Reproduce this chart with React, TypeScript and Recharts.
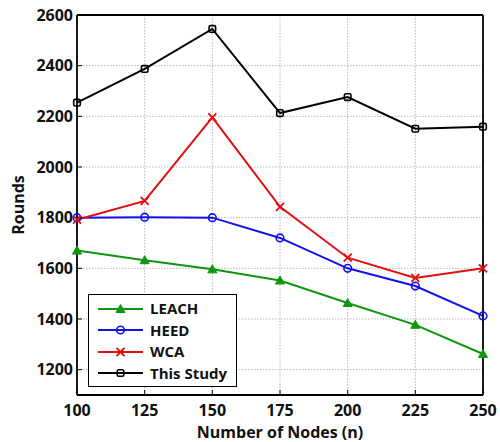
import React from 'react';
import { LineChart, Line, XAxis, YAxis, CartesianGrid } from 'recharts';

const nodes = [100, 125, 150, 175, 200, 225, 250];
const leach = [1670, 1632, 1596, 1552, 1463, 1377, 1262];
const heed = [1800, 1802, 1800, 1720, 1600, 1530, 1412];
const wca = [1792, 1866, 2196, 1843, 1642, 1562, 1600];
const thisStudy = [2254, 2387, 2545, 2213, 2276, 2151, 2159];

const xTicks = [100, 125, 150, 175, 200, 225, 250];
const yTicks = [1200, 1400, 1600, 1800, 2000, 2200, 2400, 2600];

const FONT = '"Open Sans", "Liberation Sans", sans-serif';

const Colors = {
  leach: '#0f960f',
  heed: '#1010f0',
  wca: '#e01010',
  study: '#000000',
  grid: '#b8b8b8',
  text: '#111111',
} as const;

type Marker = 'triangle' | 'circle' | 'cross' | 'square';

// one marker shape, shared by the chart dots and the legend samples
const drawMarker = (kind: Marker, cx: number, cy: number, color: string, key?: string | number) => {
  switch (kind) {
    case 'triangle':
      return <path key={key} d={`M${cx},${cy - 4.5}L${cx + 4.5},${cy + 3.5}L${cx - 4.5},${cy + 3.5}Z`} fill={color} stroke={color} strokeWidth={1} />;
    case 'circle':
      return <circle key={key} cx={cx} cy={cy} r={3.8} fill="none" stroke={color} strokeWidth={1.6} />;
    case 'cross':
      return (
        <path key={key} d={`M${cx - 4},${cy - 4}L${cx + 4},${cy + 4}M${cx - 4},${cy + 4}L${cx + 4},${cy - 4}`} stroke={color} strokeWidth={1.8} fill="none" />
      );
    default:
      return <rect key={key} x={cx - 3.3} y={cy - 3.3} width={6.6} height={6.6} rx={1.5} fill="none" stroke={color} strokeWidth={1.6} />;
  }
};

const dotFor = (kind: Marker, color: string) => (props: any) => {
  const { cx, cy, index } = props;
  if (cx == null || cy == null) return <g key={index} />;
  return drawMarker(kind, cx, cy, color, index);
};

const seriesList: { key: string; name: string; color: string; marker: Marker }[] = [
  { key: 'leach', name: 'LEACH', color: Colors.leach, marker: 'triangle' },
  { key: 'heed', name: 'HEED', color: Colors.heed, marker: 'circle' },
  { key: 'wca', name: 'WCA', color: Colors.wca, marker: 'cross' },
  { key: 'study', name: 'This Study', color: Colors.study, marker: 'square' },
];

const data = nodes.map((n, i) => ({
  n,
  leach: leach[i],
  heed: heed[i],
  wca: wca[i],
  study: thisStudy[i],
}));

// boxed legend, lower-left inside the plot (overlaid, so it doesn't shrink the plot)
const BoxLegend = () => (
  <div
    style={{
      position: 'absolute',
      left: 88,
      top: 294,
      width: 149,
      border: '1.5px solid #000',
      background: '#fff',
      padding: '3px 0 2px 0',
      boxSizing: 'border-box',
      fontFamily: FONT,
    }}
  >
    {seriesList.map((s) => (
      <div key={s.key} style={{ display: 'flex', alignItems: 'center', height: 21.5 }}>
        <svg width={56} height={14} style={{ marginLeft: 4 }}>
          <line x1={5} y1={7} x2={50} y2={7} stroke={s.color} strokeWidth={2} />
          {drawMarker(s.marker, 27.5, 7, s.color)}
        </svg>
        <span style={{ fontSize: 15, fontWeight: 700, color: Colors.text, marginLeft: 1, lineHeight: '21px' }}>{s.name}</span>
      </div>
    ))}
  </div>
);

const tickStyle = { fontSize: 16, fontWeight: 700, fill: Colors.text, fontFamily: FONT };

export default function App() {
  // pinned to the viewport corner so the body margin can't push it into scrollbars
  return (
    <div
      style={{
        position: 'fixed',
        left: 0,
        top: 0,
        width: 500,
        height: 442,
        overflow: 'hidden',
        background: '#fff',
        fontFamily: FONT,
      }}
    >
      <LineChart width={500} height={442} data={data} margin={{ top: 14, right: 16, bottom: 0, left: 0 }}>
        <CartesianGrid stroke={Colors.grid} strokeDasharray="1.5 1.5" />
        <XAxis
          dataKey="n"
          type="number"
          domain={[100, 250]}
          ticks={xTicks}
          height={47}
          axisLine={{ stroke: '#000', strokeWidth: 1.8 }}
          tickLine={{ stroke: '#000' }}
          tickSize={-5}
          tickMargin={15}
          tick={tickStyle}
          label={{
            value: 'Number of Nodes (n)',
            position: 'insideBottom',
            offset: 4,
            style: { fontSize: 16, fontWeight: 700, fill: Colors.text, fontFamily: FONT },
          }}
        />
        <XAxis
          xAxisId="top"
          orientation="top"
          type="number"
          domain={[100, 250]}
          ticks={xTicks}
          height={1}
          axisLine={{ stroke: '#000', strokeWidth: 1.8 }}
          tickLine={{ stroke: '#000' }}
          tickSize={-5}
          tick={false}
        />
        <YAxis
          type="number"
          domain={[1100, 2600]}
          ticks={yTicks}
          width={77}
          axisLine={{ stroke: '#000', strokeWidth: 1.8 }}
          tickLine={{ stroke: '#000' }}
          tickSize={-5}
          tickMargin={9}
          tick={tickStyle}
          label={{
            value: 'Rounds',
            angle: -90,
            position: 'center',
            dx: -20,
            style: { fontSize: 16, fontWeight: 700, fill: Colors.text, fontFamily: FONT, textAnchor: 'middle' },
          }}
        />
        <YAxis
          yAxisId="right"
          orientation="right"
          type="number"
          domain={[1100, 2600]}
          ticks={yTicks}
          width={1}
          axisLine={{ stroke: '#000', strokeWidth: 1.8 }}
          tickLine={{ stroke: '#000' }}
          tickSize={-5}
          tick={false}
        />
        {seriesList.map((s) => (
          <Line
            key={s.key}
            dataKey={s.key}
            name={s.name}
            stroke={s.color}
            strokeWidth={2}
            dot={dotFor(s.marker, s.color)}
            activeDot={false}
            isAnimationActive={false}
          />
        ))}
      </LineChart>
      <BoxLegend />
    </div>
  );
}
